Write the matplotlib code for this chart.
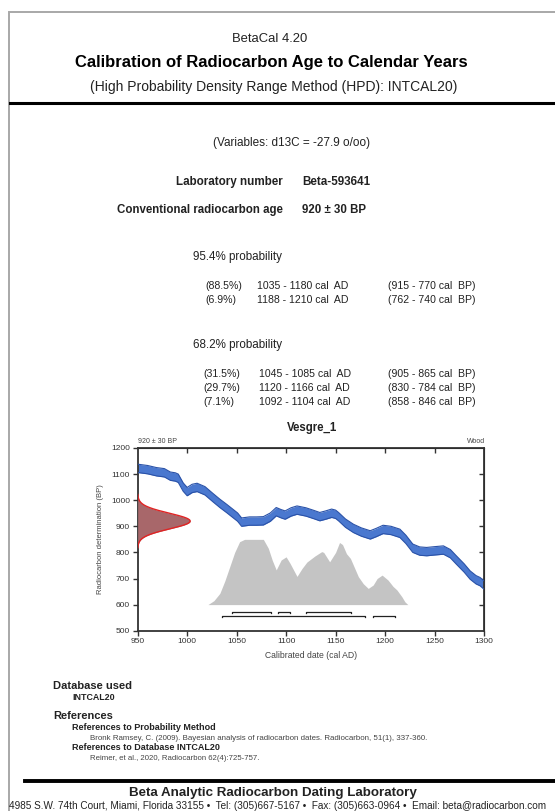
import numpy as np
import matplotlib
matplotlib.use("Agg")
import matplotlib.pyplot as plt
from matplotlib.patches import Rectangle
from matplotlib.lines import Line2D

plt.rcParams['font.family'] = ['Liberation Sans', 'DejaVu Sans']

# calibration curve (IntCal20)
cal_years = [950, 960, 969, 977, 983, 988, 991, 996, 1000, 1005, 1010, 1018, 1026, 1033, 1040,
             1046, 1051, 1055, 1063, 1070, 1077, 1084, 1090, 1095, 1099, 1105, 1111, 1120,
             1128, 1134, 1140, 1146, 1150, 1153, 1160, 1168, 1176, 1185, 1191, 1198, 1206,
             1215, 1221, 1228, 1235, 1242, 1250, 1259, 1266, 1272, 1280, 1286, 1292, 1296, 1300]
cal_bp = [1122, 1117, 1109, 1105, 1092, 1089, 1084, 1050, 1033, 1045, 1049, 1036, 1010, 988, 968,
          950, 935, 916, 920, 920, 921, 935, 956, 948, 943, 955, 962, 955,
          945, 937, 943, 950, 946, 937, 912, 892, 878, 867, 876, 888, 884,
          873, 850, 816, 805, 803, 806, 809, 795, 771, 740, 713, 695, 688, 675]
cal_err = 16

# sample
sample_bp = 920
sample_sd = 30

# calibrated probability distribution
prob_years = [1021, 1027, 1033, 1038, 1043, 1048, 1053, 1058, 1068, 1077, 1082, 1086, 1090,
              1095, 1100, 1104, 1111, 1116, 1121, 1129, 1136, 1138, 1144, 1150, 1154, 1157,
              1161, 1165, 1173, 1178, 1183, 1188, 1192, 1197, 1203, 1208, 1212, 1217, 1220, 1223]
prob_bp = [600, 615, 643, 690, 745, 800, 841, 850, 850, 850, 816, 770, 733,
           771, 783, 758, 708, 738, 763, 786, 803, 800, 764, 800, 838, 830,
           795, 777, 707, 680, 662, 675, 700, 713, 694, 670, 656, 630, 611, 600]

# HPD ranges
ranges_68_start = [1045, 1092, 1120]
ranges_68_end = [1085, 1104, 1166]
ranges_95_start = [1035, 1188]
ranges_95_end = [1180, 1210]

W, H = 555, 811
fig = plt.figure(figsize=(W / 100, H / 100), dpi=100)


def fx(x):
    return x / W


def fy(y):
    return 1 - y / H


def txt(x, y, s, size, ha='left', bold=False, color='#222222'):
    fig.text(fx(x), fy(y), s, fontsize=size, ha=ha, va='center',
             fontweight='bold' if bold else 'normal', color=color)


# page border
fig.patches.append(Rectangle((fx(9), -0.1), 1.2, fy(12) + 0.1, transform=fig.transFigure,
                             fill=False, edgecolor='#a8a8a8', lw=1.4))

# header
txt(270, 39, "BetaCal 4.20", 9.4, ha='center')
txt(271, 63, "Calibration of Radiocarbon Age to Calendar Years", 12.0, ha='center', bold=True, color='black')
txt(274, 87, "(High Probability Density Range Method (HPD): INTCAL20)", 10.0, ha='center')
fig.lines.append(Line2D([fx(10), 1], [fy(103), fy(103)], transform=fig.transFigure,
                        color='black', lw=2.2))

txt(370, 143, "(Variables: d13C = -27.9 o/oo)", 8.5, ha='right')
txt(283, 182, "Laboratory number", 8.4, ha='right', bold=True)
txt(302, 182, "Beta-593641", 8.4, bold=True)
txt(283, 210, "Conventional radiocarbon age", 8.3, ha='right', bold=True)
txt(302, 210, "920 \u00b1 30 BP", 8.3, bold=True)

txt(193, 257, "95.4% probability", 8.4)
rows95 = [("(88.5%)", "1035 - 1180 cal  AD", "(915 - 770 cal  BP)"),
          ("(6.9%)", "1188 - 1210 cal  AD", "(762 - 740 cal  BP)")]
for i, (p, ad, bp) in enumerate(rows95):
    y = 286 + i * 14
    txt(205, y, p, 7.6)
    txt(257, y, ad, 7.6)
    txt(388, y, bp, 7.6)

txt(193, 345, "68.2% probability", 8.4)
rows68 = [("(31.5%)", "1045 - 1085 cal  AD", "(905 - 865 cal  BP)"),
          ("(29.7%)", "1120 - 1166 cal  AD", "(830 - 784 cal  BP)"),
          ("(7.1%)", "1092 - 1104 cal  AD", "(858 - 846 cal  BP)")]
for i, (p, ad, bp) in enumerate(rows68):
    y = 374 + i * 14
    txt(203, y, p, 7.6)
    txt(259, y, ad, 7.6)
    txt(388, y, bp, 7.6)

# plot
ax = fig.add_axes([fx(137.7), fy(630.7), (484 - 137.7) / W, (630.7 - 448) / H])
cy = np.array(cal_years)
cb = np.array(cal_bp)
ax.fill_between(prob_years, 600, prob_bp, color='#c4c4c4', lw=0, zorder=1)
ax.fill_between(cy, cb - cal_err, cb + cal_err, color='#4a78cf', lw=0, zorder=2)
ax.plot(cy, cb + cal_err, color='#2a52a8', lw=0.8, zorder=3)
ax.plot(cy, cb - cal_err, color='#2a52a8', lw=0.8, zorder=3)

yy = np.linspace(sample_bp - 3.4 * sample_sd, sample_bp + 3.4 * sample_sd, 200)
dens = np.exp(-0.5 * ((yy - sample_bp) / sample_sd) ** 2)
ax.fill_betweenx(yy, 950, 950 + 53 * dens, color='#a8676a', lw=0, zorder=4)
ax.plot(950 + 53 * dens, yy, color='#e02424', lw=1.0, zorder=5)

# HPD range bars with small end ticks
for level, starts, ends in [(573, ranges_68_start, ranges_68_end),
                            (557, ranges_95_start, ranges_95_end)]:
    for a, b in zip(starts, ends):
        ax.plot([a, a, b, b], [level - 6, level, level, level - 6],
                color='#222222', lw=0.9, zorder=6)

ax.set_xlim(950, 1300)
ax.set_ylim(500, 1200)
ax.set_xticks(range(950, 1301, 50))
ax.set_yticks(range(500, 1201, 100))
ax.tick_params(labelsize=6, length=3.5, width=1, colors='#333333', pad=2)
for s in ax.spines.values():
    s.set_color('#333333')
    s.set_linewidth(1.3)
ax.set_xlabel("Calibrated date (cal AD)", fontsize=6.2, color='#444444', labelpad=4)
ax.set_ylabel("Radiocarbon determination (BP)", fontsize=5.5, color='#444444', labelpad=5)

top = ax.secondary_xaxis('top')
top.set_xticks(range(1000, 1300, 50))
top.tick_params(direction='in', length=3.5, width=1, labeltop=False, colors='#333333')
right = ax.secondary_yaxis('right')
right.set_yticks(range(600, 1200, 100))
right.tick_params(direction='in', length=3.5, width=1, labelright=False, colors='#333333')

txt(138, 441.5, "920 \u00b1 30 BP", 5.0, color='#444444')
txt(485, 441.5, "Wood", 5.0, ha='right', color='#444444')
txt(312, 428, "Vesgre_1", 8.3, ha='center', bold=True)

# footer
txt(53, 686, "Database used", 8.0, bold=True)
txt(72, 698, "INTCAL20", 6.4, bold=True)
txt(53, 716, "References", 8.0, bold=True)
txt(72, 728, "References to Probability Method", 6.5, bold=True)
txt(90, 739, "Bronk Ramsey, C. (2009). Bayesian analysis of radiocarbon dates. Radiocarbon, 51(1), 337-360.", 5.7, color='#444444')
txt(72, 748, "References to Database INTCAL20", 6.5, bold=True)
txt(90, 759, "Reimer, et al., 2020, Radiocarbon 62(4):725-757.", 5.6, color='#444444')
fig.lines.append(Line2D([fx(25), 1], [fy(781), fy(781)], transform=fig.transFigure,
                        color='black', lw=2.8))
txt(273, 793, "Beta Analytic Radiocarbon Dating Laboratory", 9.6, ha='center', bold=True)
txt(278, 806, "4985 S.W. 74th Court, Miami, Florida 33155 \u2022  Tel: (305)667-5167 \u2022  Fax: (305)663-0964 \u2022  Email: beta@radiocarbon.com",
    7.2, ha='center')

fig.savefig("out.png", dpi=100)
